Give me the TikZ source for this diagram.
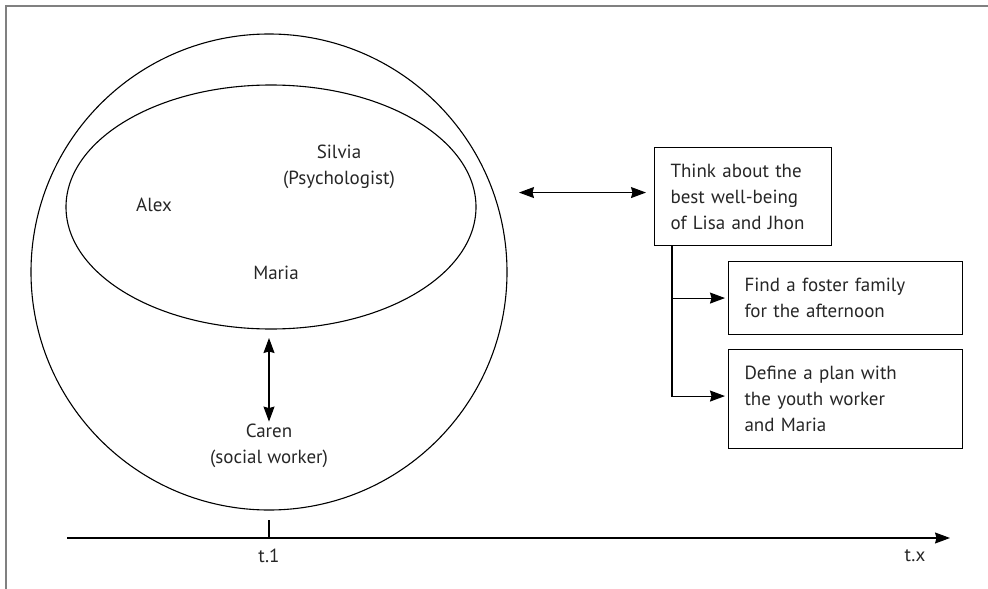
\documentclass[tikz,border=0pt]{standalone}
\usepackage{fontspec}
\setmainfont{PT Sans}
\usetikzlibrary{arrows.meta,shapes.geometric}
\begin{document}
\begin{tikzpicture}[x=1pt,y=-1pt,
  line width=1.1pt,
  font=\fontsize{19}{26}\selectfont,
  every node/.style={text=black!85},
  tip/.style={-{Stealth[length=15pt,width=11pt,inset=1.5pt]}},
  dtip/.style={{Stealth[length=15pt,width=11pt,inset=1.5pt]}-{Stealth[length=15pt,width=11pt,inset=1.5pt]}},
  label/.style={align=center,inner sep=0pt},
  taskbox/.style={draw,rectangle,anchor=north west,inner xsep=16pt,inner ysep=0pt,
    align=left,text width=#1-32pt,minimum width=#1},
]
\useasboundingbox (0,0) rectangle (988,589);

% page frame (top and left edges)
\draw[black!50,line width=2pt] (5.5,589) -- (5.5,5.5) -- (988,5.5);

% outer circle and inner team ellipse
\node[circle,draw,minimum size=476pt,inner sep=0pt,outer sep=0pt] (outer) at (269,272) {};
\node[ellipse,draw,minimum width=410pt,minimum height=244pt,inner sep=0pt,outer sep=0pt] (team) at (271,207) {};

% people
\node[label] (alex) at (154,205) {Alex};
\node[label] (silvia) at (339,167) {Silvia\\(Psychologist)};
\node[label] (maria) at (276,273) {Maria};
\node[label] (caren) at (269,446) {Caren\\(social worker)};

% task boxes
\node[taskbox=177pt,minimum height=98pt] (think) at (654,147)
  {Think about the\\best well-being\\of Lisa and Jhon};
\node[taskbox=234pt,minimum height=73pt] (foster) at (728,261)
  {Find a foster family\\for the afternoon};
\node[taskbox=234pt,minimum height=99pt] (plan) at (728,349)
  {Define a plan with\\the youth worker\\and Maria};

% connectors
\draw[dtip,shorten <=9pt,shorten >=2pt] (team.south -| caren.north) -- (caren.north);
\draw[dtip,shorten <=12pt,shorten >=8pt] ([yshift=4pt]think.west -| outer.east) -- ([yshift=4pt]think.west);
\coordinate (trunk) at ([xshift=18pt]think.south west);
\draw[tip] (trunk) |- ([xshift=-3pt]foster.west);
\draw[tip] (trunk) |- ([xshift=-3pt,yshift=3pt]plan.west);

% time axis
\coordinate (ax0) at (67,538);
\coordinate (ax1) at (950,538);
\draw[tip] (ax0) -- (ax1);
\coordinate (t1) at (269,538);
\draw (t1) -- ++(0,-18);
\node[label] (t1lab) at (269,556) {t.1};
\node[label] (txlab) at (915,556) {t.x};
\end{tikzpicture}
\end{document}
